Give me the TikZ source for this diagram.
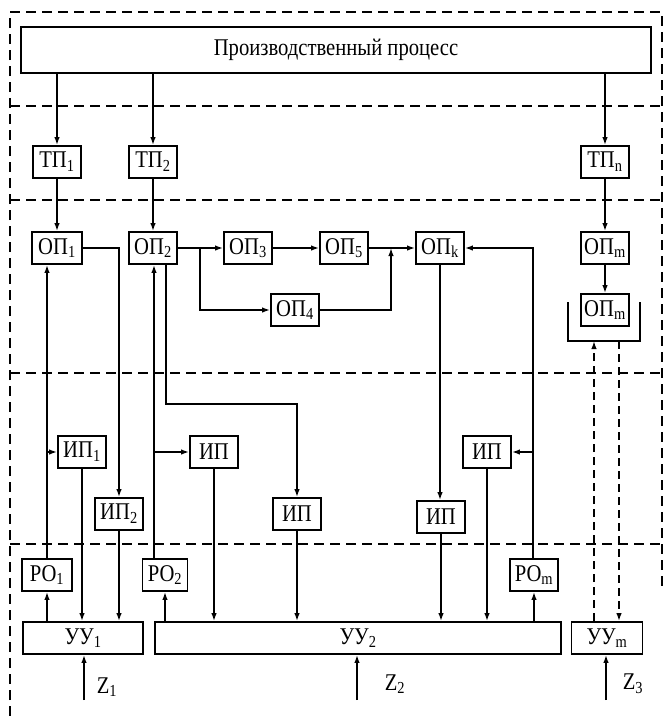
\documentclass[tikz,border=0pt]{standalone}
\usepackage{fontspec}
\setmainfont{Liberation Serif}[FakeStretch=0.86]
\usetikzlibrary{arrows.meta}
\usetikzlibrary{math}

\begin{document}
\begin{tikzpicture}[x=1pt,y=-1pt,
  font=\fontsize{24}{27}\selectfont,
  blk/.style={draw,line width=1.8pt,inner sep=0pt,minimum height=32pt,minimum width=48pt},
  lnk/.style={line width=1.5pt},
  arr/.style={lnk,-{Latex[length=8pt,width=5.5pt]}},
  zone/.style={line width=1.5pt,dash pattern=on 10pt off 6pt},
  dsh/.style={line width=1.5pt,dash pattern=on 8pt off 5pt}]
\tikzmath{
\L=10;
\R=662;
\T=12;
}
\useasboundingbox (0,0) rectangle (665,716);

%zones:
 \draw[zone] (\L,716) -- (\L,\T) -- (\R,\T) -- (\R,590);
 \foreach \y in {106,200,373,544}{
  \draw[zone] (\L,\y) -- (\R,\y);
 }

%blocks
 \node[blk,minimum width=630pt,minimum height=46pt] (proc) at (336,50) {Производственный процесс};
 \node[blk] (tp1) at (57,162) {ТП\textsubscript{1}};
 \node[blk] (tp2) at (153,162) {ТП\textsubscript{2}};
 \node[blk] (tpn) at (605,162) {ТП\textsubscript{n}};
 \node[blk,minimum width=50pt] (op1) at (57,248) {ОП\textsubscript{1}};
 \node[blk] (op2) at (153,248) {ОП\textsubscript{2}};
 \node[blk] (op3) at (248,248) {ОП\textsubscript{3}};
 \node[blk] (op5) at (344,248) {ОП\textsubscript{5}};
 \node[blk] (opk) at (440,248) {ОП\textsubscript{k}};
 \node[blk] (opm) at (605,248) {ОП\textsubscript{m}};
 \node[blk] (op4) at (295,310) {ОП\textsubscript{4}};
 \node[blk] (opmb) at (605,310) {ОП\textsubscript{m}};
 \node[blk] (ip1) at (82,452) {ИП\textsubscript{1}};
 \node[blk] (ipa) at (214,452) {ИП};
 \node[blk] (ipd) at (487,452) {ИП};
 \node[blk] (ip2) at (119,514) {ИП\textsubscript{2}};
 \node[blk] (ipb) at (297,514) {ИП};
 \node[blk] (ipc) at (441,517) {ИП};
 \node[blk,minimum width=50pt] (ro1) at (47,575) {РО\textsubscript{1}};
 \node[blk,minimum width=45pt] (ro2) at (165,575) {РО\textsubscript{2}};
 \node[blk] (rom) at (534,575) {РО\textsubscript{m}};
 \node[blk,minimum width=120pt] (uu1) at (83,638) {УУ\textsubscript{1}};
 \node[blk,minimum width=406pt] (uu2) at (358,638) {УУ\textsubscript{2}};
 \node[blk,minimum width=71pt] (uum) at (607,638) {УУ\textsubscript{m}};
 \node (z1) at (107,687) {Z\textsubscript{1}};
 \node (z2) at (395,684) {Z\textsubscript{2}};
 \node (z3) at (633,684) {Z\textsubscript{3}};

%junctions
 \coordinate (j1) at (200,248);
 \coordinate (j2) at (391,248);
 \coordinate (a1) at (47,452);
 \coordinate (b1) at (154,452);
 \coordinate (b2) at (166,404);
 \coordinate (c1) at (533,452);
 \coordinate (brl) at (568,341);
 \coordinate (brr) at (640,341);
 \coordinate (d1) at (594,341);
 \coordinate (d2) at (619,341);
 \coordinate (zin1) at (84,700);
 \coordinate (zin2) at (357,700);
 \coordinate (zin3) at (606,700);

%process to sensors
 \draw[arr] (tp1|-proc.south) -- (tp1.north);
 \draw[arr] (tp2|-proc.south) -- (tp2.north);
 \draw[arr] (tpn|-proc.south) -- (tpn.north);
 \draw[arr] (tp1.south) -- (op1.north);
 \draw[arr] (tp2.south) -- (op2.north);
 \draw[arr] (tpn.south) -- (opm.north);
 \draw[arr] (opm.south) -- (opmb.north);

%chain of operations
 \draw[lnk] (op2.east) -- (j1);
 \draw[arr] (j1) -- (op3.west);
 \draw[arr] (j1) |- (op4.west);
 \draw[arr] (op3.east) -- (op5.west);
 \draw[arr] (op5.east) -- (opk.west);
 \draw[arr] (op4.east) -| (j2);

%first loop
 \draw[arr] (ro1.north) -- (ro1.north |- op1.south);
 \draw[arr] (a1) -- (ip1.west);
 \draw[arr] (ro1.south |- uu1.north) -- (ro1.south);
 \draw[arr] (ip1.south) -- (ip1.south |- uu1.north);
 \draw[arr] (op1.east) -| (ip2.north);
 \draw[arr] (ip2.south) -- (ip2.south |- uu1.north);
 \draw[arr] (zin1) -- (zin1 |- uu1.south);

%second loop
 \draw[arr] (b1 |- ro2.north) -- (b1 |- op2.south);
 \draw[arr] (b1) -- (ipa.west);
 \draw[arr] (ro2.south |- uu2.north) -- (ro2.south);
 \draw[arr] (b2 |- op2.south) -- (b2) -| (ipb.north);
 \draw[arr] (ipa.south) -- (ipa.south |- uu2.north);
 \draw[arr] (ipb.south) -- (ipb.south |- uu2.north);
 \draw[arr] (opk.south) -- (opk.south |- ipc.north);
 \draw[arr] (ipc.south) -- (ipc.south |- uu2.north);
 \draw[arr] (c1 |- rom.north) -- (c1 |- opk.east) -- (opk.east);
 \draw[arr] (c1) -- (ipd.east);
 \draw[arr] (ipd.south) -- (ipd.south |- uu2.north);
 \draw[arr] (rom.south |- uu2.north) -- (rom.south);
 \draw[arr] (zin2) -- (zin2 |- uu2.south);

%last loop
 \draw[lnk] (brl) ++(0,-39) -- (brl) -- (brr) -- ++(0,-39);
 \draw[dsh,-{Latex[length=8pt,width=5.5pt]}] (d1 |- uum.north) -- (d1);
 \draw[dsh,-{Latex[length=8pt,width=5.5pt]}] (d2) -- (d2 |- uum.north);
 \draw[arr] (zin3) -- (zin3 |- uum.south);
\end{tikzpicture}
\end{document}
